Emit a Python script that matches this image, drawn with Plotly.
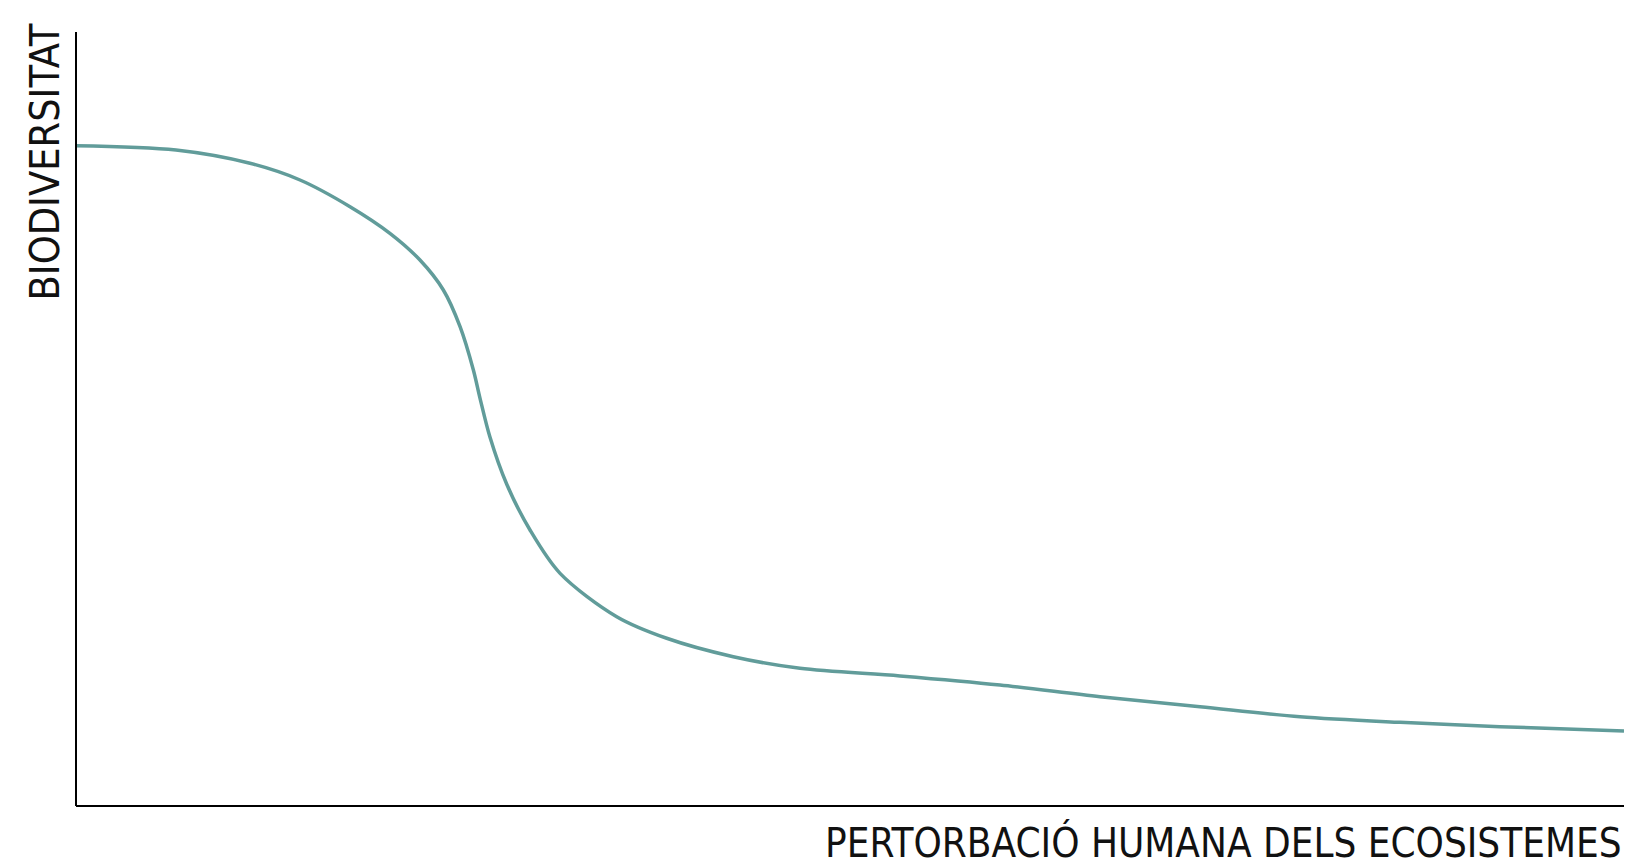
import plotly.graph_objects as go

# Data (x: human disturbance, y: biodiversity), arbitrary 0-100 units
disturbance = [0, 6.46, 11.24, 14.47, 17.70, 20.28, 22.22, 23.73, 24.81, 25.67, 26.10,
               26.74, 27.82, 29.33, 31.27, 34.93, 38.16, 42.46, 46.77, 53.23, 59.69,
               66.15, 72.61, 79.07, 85.53, 91.99, 100]
biodiversity = [85.31, 84.75, 83.04, 80.88, 77.43, 73.99, 70.54, 66.67, 61.93, 56.33, 52.67,
                47.67, 41.60, 35.66, 30.06, 24.46, 21.67, 19.29, 17.79, 16.80, 15.63,
                14.12, 12.83, 11.54, 10.81, 10.25, 9.69]

x_title = "PERTORBACIÓ HUMANA DELS ECOSISTEMES"
y_title = "BIODIVERSITAT"

W, H = 1633, 865
ML, MR, MT, MB = 76, 9, 32, 59
PW, PH = W - ML - MR, H - MT - MB

fig = go.Figure()
fig.add_trace(go.Scatter(
    x=disturbance, y=biodiversity, mode="lines",
    line=dict(color="#619c9a", width=3.5, shape="spline", smoothing=0.9),
    hoverinfo="skip", showlegend=False,
))

family = "Liberation Sans Narrow, DejaVu Sans Condensed, sans-serif"

fig.update_layout(
    width=W, height=H,
    margin=dict(l=ML, r=MR, t=MT, b=MB),
    paper_bgcolor="white", plot_bgcolor="white",
    xaxis=dict(range=[0, 100], showgrid=False, zeroline=False, showticklabels=False,
               ticks="", showline=False),
    yaxis=dict(range=[0, 100], showgrid=False, zeroline=False, showticklabels=False,
               ticks="", showline=False),
    shapes=[
        dict(type="line", xref="paper", yref="paper", x0=0, x1=0, y0=0, y1=1,
             line=dict(color="black", width=2)),
        dict(type="line", xref="paper", yref="paper", x0=0, x1=1, y0=0, y1=0,
             line=dict(color="black", width=2)),
    ],
    annotations=[
        dict(text=y_title, textangle=-90, xref="paper", yref="paper",
             x=-32 / PW, y=1 + 10 / PH, xanchor="center", yanchor="top",
             showarrow=False, font=dict(family=family, size=41, color="#111111")),
        dict(text=x_title, xref="paper", yref="paper",
             x=1, y=-36 / PH, xanchor="right", yanchor="middle",
             showarrow=False, font=dict(family=family, size=40, color="#111111")),
    ],
)

fig.write_html(
    "out.html",
    config={"displayModeBar": False},
    post_script="document.body.style.margin='0';document.body.style.overflow='hidden';",
)
